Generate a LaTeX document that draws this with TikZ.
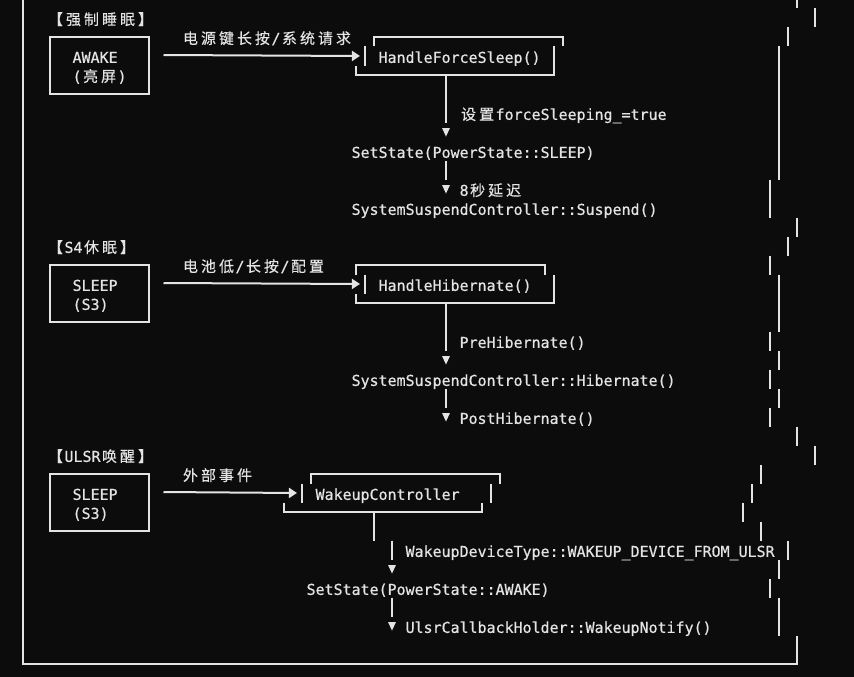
\documentclass[tikz,border=0pt]{standalone}
\usepackage{fontspec}
\setmainfont{DejaVu Sans Mono}[FakeBold=0.6]
\newfontfamily\cjkfont{Noto Sans CJK SC}[FakeBold=0.4]
\usetikzlibrary{arrows.meta,calc}
\definecolor{bg}{HTML}{0C0C0C}
\definecolor{fg}{HTML}{E4E4E4}
% every CJK character takes two columns of the grid
\newcommand{\zh}[1]{\zhloop#1\relax}
\def\zhloop#1{\ifx\relax#1\else\makebox[18pt]{\cjkfont#1}\expandafter\zhloop\fi}
% small down triangle, one cell wide
\newcommand{\tdown}[1]{\fill (#1) ++(-0.44,-0.21) -- ++(0.88,0) -- ++(-0.44,0.45) -- cycle;}

\begin{document}
\begin{tikzpicture}[x=9pt, y=-19pt, line width=2pt, color=fg,
  font=\fontsize{14.95pt}{19pt}\selectfont,
  lbl/.style={anchor=base west, inner sep=0pt},
  box/.style={draw, minimum width=99pt, minimum height=57pt, inner sep=0pt},
  arr/.style={-{Triangle[length=8pt,width=10pt]}}]
  \useasboundingbox[fill=bg] (-23/9,1/19) rectangle (831/9,678/19);
  % ---------------------------------------------------------------- frame
  \draw (0,0.06) -- (0,35) -- (86,35) -- (86,33.5);
  \foreach \c/\a/\b in {86/0.06/0.5, 88/0.5/1.5, 85/1.5/2.5, 84/2.5/9.5, 83/9.5/11.5,
      86/11.5/12.5, 85/12.5/13.5, 83/13.5/14.5, 84/14.5/17.5, 83/17.5/18.5, 84/18.5/19.5,
      83/19.5/20.5, 84/20.5/21.5, 83/21.5/22.5, 86/22.5/23.5, 88/23.5/24.5, 82/24.5/25.5,
      81/25.5/26.5, 80/26.5/27.5, 82/27.5/28.5, 85/28.5/29.5, 84/29.5/30.5, 83/30.5/31.5,
      84/31.5/33.5}
    \draw (\c,\a) -- (\c,\b);
  % ---------------------------------------------------------------- force sleep
  \node[lbl] (forcehd) at (2.5,1.36) {\zh{【强制睡眠】}};
  \node[box] (awake) at (8.5,3.5) {};
  \node[lbl] (awakea) at (5.4,3.36) {AWAKE};
  \node[lbl] (awakeb) at (5.4,4.36) {(\zh{亮屏})};
  \node[lbl] (forcecause) at (17.5,2.36) {\zh{电源键长按}/\zh{系统请求}};
  \draw[arr] ($(awake.north east)+(1.5,1)$) -- (37.44,3);
  \draw (39,2.5) -- (39,2) -- (60,2) -- (60,2.5);
  \draw (38,2.5) -- (38,3.5);
  \draw (59,2.5) -- (59,4) -- (37,4) -- (37,3.5);
  \node[lbl] (hfs) at (39.4,3.36) {HandleForceSleep()};
  \draw (47,4) -- (47,6.5);
  \node[lbl] (setflag) at (48.4,6.36) {\zh{设置}forceSleeping\_=true};
  \tdown{47,7}
  \node[lbl] (setsleep) at (36.4,8.36) {SetState(PowerState::SLEEP)};
  \draw (47,8.5) -- (47,9.5);
  \tdown{47,10}
  \node[lbl] (delay) at (48.4,10.36) {8\zh{秒延迟}};
  \node[lbl] (suspend) at (36.4,11.36) {SystemSuspendController::Suspend()};
  % ---------------------------------------------------------------- S4 hibernate
  \node[lbl] (s4hd) at (2.5,13.36) {\zh{【}S4\zh{休眠】}};
  \node[box] (sleepa) at (8.5,15.5) {};
  \node[lbl] (sleepaa) at (5.4,15.36) {SLEEP};
  \node[lbl] (sleepab) at (5.4,16.36) {(S3)};
  \node[lbl] (s4cause) at (17.5,14.36) {\zh{电池低}/\zh{长按}/\zh{配置}};
  \draw[arr] ($(sleepa.north east)+(1.5,1)$) -- (37.44,15);
  \draw (37,14.5) -- (37,14) -- (58,14) -- (58,14.5);
  \draw (38,14.5) -- (38,15.5);
  \draw (59,14.5) -- (59,16) -- (37,16) -- (37,15.5);
  \node[lbl] (hhib) at (39.4,15.36) {HandleHibernate()};
  \draw (47,16) -- (47,18.5);
  \node[lbl] (prehib) at (48.4,18.36) {PreHibernate()};
  \tdown{47,19}
  \node[lbl] (hib) at (36.4,20.36) {SystemSuspendController::Hibernate()};
  \draw (47,20.5) -- (47,21.5);
  \tdown{47,22}
  \node[lbl] (posthib) at (48.4,22.36) {PostHibernate()};
  % ---------------------------------------------------------------- ULSR wakeup
  \node[lbl] (ulsrhd) at (2.5,24.36) {\zh{【}ULSR\zh{唤醒】}};
  \node[box] (sleepb) at (8.5,26.5) {};
  \node[lbl] (sleepba) at (5.4,26.36) {SLEEP};
  \node[lbl] (sleepbb) at (5.4,27.36) {(S3)};
  \node[lbl] (ulsrcause) at (17.5,25.36) {\zh{外部事件}};
  \draw[arr] ($(sleepb.north east)+(1.5,1)$) -- (30.44,26);
  \draw (32,25.5) -- (32,25) -- (53,25) -- (53,25.5);
  \draw (31,25.5) -- (31,26.5);
  \draw (52,25.5) -- (52,26.5);
  \draw (29,26.5) -- (29,27) -- (51,27) -- (51,26.5);
  \node[lbl] (wkctl) at (32.4,26.36) {WakeupController};
  \draw (39,27) -- (39,28.5);
  \draw (41,28.5) -- (41,29.5);
  \node[lbl] (wktype) at (42.4,29.36) {WakeupDeviceType::WAKEUP\_DEVICE\_FROM\_ULSR};
  \tdown{41,30}
  \node[lbl] (setawake) at (31.4,31.36) {SetState(PowerState::AWAKE)};
  \draw (41,31.5) -- (41,32.5);
  \tdown{41,33}
  \node[lbl] (notify) at (42.4,33.36) {UlsrCallbackHolder::WakeupNotify()};
\end{tikzpicture}
\end{document}
